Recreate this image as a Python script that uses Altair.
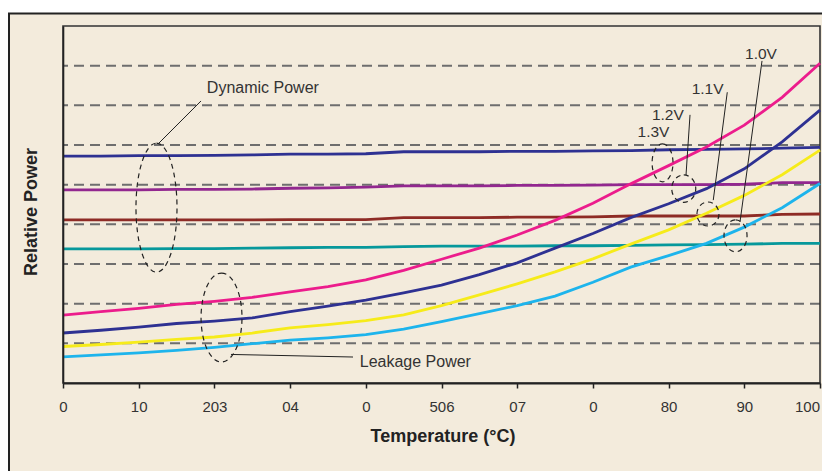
import altair as alt
import pandas as pd

# ---------------- data ----------------
temps = [0, 5, 10, 15, 20, 25, 30, 35, 40, 45, 50, 55, 60, 65, 70, 75, 80, 85, 90, 95, 100]

# dynamic power (nearly flat)
dyn_blue = [5.72, 5.72, 5.73, 5.73, 5.74, 5.75, 5.77, 5.77, 5.78, 5.83, 5.83, 5.83, 5.84, 5.84, 5.85, 5.86, 5.88, 5.89, 5.90, 5.92, 5.94]
dyn_purple = [4.87, 4.87, 4.87, 4.88, 4.88, 4.89, 4.91, 4.92, 4.94, 4.97, 4.97, 4.97, 4.98, 4.98, 4.99, 5.00, 5.00, 5.00, 5.01, 5.05, 5.05]
dyn_brown = [4.11, 4.11, 4.11, 4.11, 4.11, 4.11, 4.12, 4.12, 4.12, 4.17, 4.17, 4.17, 4.18, 4.18, 4.19, 4.21, 4.21, 4.21, 4.21, 4.25, 4.26]
dyn_teal = [3.38, 3.38, 3.38, 3.39, 3.39, 3.40, 3.41, 3.42, 3.42, 3.44, 3.45, 3.45, 3.45, 3.46, 3.46, 3.47, 3.48, 3.49, 3.50, 3.52, 3.52]

# leakage power
leak_13 = [1.71, 1.80, 1.88, 1.98, 2.06, 2.16, 2.30, 2.43, 2.60, 2.84, 3.12, 3.40, 3.73, 4.10, 4.53, 5.02, 5.48, 5.95, 6.50, 7.20, 8.06]
leak_12 = [1.26, 1.33, 1.41, 1.50, 1.56, 1.64, 1.80, 1.94, 2.09, 2.27, 2.47, 2.73, 3.03, 3.40, 3.77, 4.17, 4.52, 4.90, 5.40, 6.08, 6.88]
leak_11 = [0.92, 0.97, 1.03, 1.10, 1.16, 1.26, 1.39, 1.47, 1.57, 1.72, 1.95, 2.22, 2.50, 2.80, 3.13, 3.50, 3.86, 4.28, 4.73, 5.25, 5.87]
leak_10 = [0.66, 0.71, 0.76, 0.82, 0.90, 0.99, 1.08, 1.14, 1.22, 1.36, 1.55, 1.75, 1.95, 2.19, 2.54, 2.92, 3.21, 3.52, 3.93, 4.42, 5.03]

series_names = ["dyn_blue", "dyn_purple", "dyn_brown", "dyn_teal",
                "leak_1.3V", "leak_1.2V", "leak_1.1V", "leak_1.0V"]
series_values = [dyn_blue, dyn_purple, dyn_brown, dyn_teal,
                 leak_13, leak_12, leak_11, leak_10]
series_colors = ["#2E3192", "#92278F", "#8E2B25", "#06989B",
                 "#EC1C8C", "#2E3192", "#F6EB1A", "#1DB4EC"]

x_ticks = [0, 10, 20, 30, 40, 50, 60, 70, 80, 90, 100]
x_tick_labels = ["0", "10", "203", "04", "0", "506", "07", "0", "80", "90", "100"]
grid_levels = [1, 2, 3, 4, 5, 6, 7, 8]

# annotations (data coordinates)
ann_text = ["Dynamic Power", "Leakage Power", "1.0V", "1.1V", "1.2V", "1.3V"]
ann_text_T = [19.0, 39.2, 90.1, 83.05, 77.8, 75.9]
ann_text_V = [7.30, 0.41, 8.16, 7.28, 6.63, 6.19]
ann_text_fs = [16, 16, 15.5, 15.5, 15.5, 15.5]

ell_T = [12.35, 20.94, 79.2, 82.0, 85.2, 88.84]
ell_V = [4.42, 1.65, 5.55, 4.90, 4.26, 3.71]
ell_h = [129, 89, 38, 27.4, 24, 32]          # pixel heights
ell_ratio = [0.318, 0.46, 0.55, 0.876, 0.917, 0.72]

lead_T = [18.23, 22.19, 92.34, 87.75, 82.83]
lead_V = [7.11, 0.72, 8.12, 7.33, 6.76]
lead_T2 = [12.68, 38.31, 89.43, 85.9, 82.3]
lead_V2 = [6.05, 0.655, 4.06, 4.61, 5.24]

# ---------------- build ----------------
W, H = 757, 357
BEIGE = "#F3EBDC"
FONT = "Liberation Sans"

rows = []
for name, vals in zip(series_names, series_values):
    for t, v in zip(temps, vals):
        rows.append({"series": name, "T": t, "V": v})
df = pd.DataFrame(rows)

x_scale = alt.Scale(domain=[0, 100], nice=False, zero=False)
y_scale = alt.Scale(domain=[0, 9], nice=False, zero=False)

label_arr = "[" + ",".join("'" + s + "'" for s in x_tick_labels) + "]"

x_axis = alt.Axis(
    values=x_ticks, labelExpr=label_arr + "[round(datum.value/10)]",
    grid=False, tickSize=5, tickWidth=1.5, tickColor="#222",
    domainColor="#222", domainWidth=2,
    labelFont=FONT, labelFontSize=15, labelColor="#333", labelPadding=11,
    labelFlush=False, labelOverlap=False,
    labelOffset={"condition": {"test": "datum.value === 100", "value": -13}, "value": 0},
    title="Temperature (°C)", titleFont=FONT, titleFontSize=18,
    titleFontWeight="bold", titleColor="#222",
    titleBaseline="alphabetic", titleY=58, titleX=W / 2 + 1, titleAlign="center",
    zindex=1,
)
y_axis = alt.Axis(
    labels=False, ticks=False, grid=False,
    domainColor="#222", domainWidth=1.6,
    title="Relative Power", titleFont=FONT, titleFontSize=18,
    titleFontWeight="bold", titleColor="#222",
    titleAngle=270, titleAlign="center", titleBaseline="alphabetic",
    titleX=-26.3, titleY=185.5,
    zindex=1,
)

one = pd.DataFrame({"k": [0]})

frame = alt.Chart(one).mark_rect(fill=BEIGE, stroke="#222", strokeWidth=2).encode(
    x=alt.value(-54), x2=alt.value(W + 60), y=alt.value(-12.5), y2=alt.value(H + 150)
)

plot_frame = alt.Chart(one).mark_rect(fillOpacity=0, stroke="#333", strokeWidth=1.6).encode(
    x=alt.value(0), x2=alt.value(W), y=alt.value(0), y2=alt.value(H)
)

grid = alt.Chart(pd.DataFrame({"g": grid_levels})).mark_rule(
    color="#6E6E6E", strokeWidth=2, strokeDash=[10, 6]
).encode(y=alt.Y("g:Q", scale=y_scale, axis=y_axis))

lines = alt.Chart(df).mark_line(strokeWidth=2.8).encode(
    x=alt.X("T:Q", scale=x_scale, axis=x_axis),
    y=alt.Y("V:Q", scale=y_scale, axis=y_axis),
    color=alt.Color("series:N", scale=alt.Scale(domain=series_names, range=series_colors), legend=None),
    detail="series:N",
)

k = 0.5523
def ellipse_path(r):
    return (f"M0,-1 C{k*r:.4f},-1 {r:.4f},{-k:.4f} {r:.4f},0 "
            f"C{r:.4f},{k:.4f} {k*r:.4f},1 0,1 "
            f"C{-k*r:.4f},1 {-r:.4f},{k:.4f} {-r:.4f},0 "
            f"C{-r:.4f},{-k:.4f} {-k*r:.4f},-1 0,-1 Z")

ell_df = pd.DataFrame({
    "T": ell_T, "V": ell_V,
    "size": [h * h for h in ell_h],
    "shape": [ellipse_path(r) for r in ell_ratio],
})
ellipses = alt.Chart(ell_df).mark_point(
    filled=False, stroke="#222", strokeWidth=1.2, strokeDash=[5, 4], opacity=1
).encode(
    x=alt.X("T:Q", scale=x_scale, axis=x_axis),
    y=alt.Y("V:Q", scale=y_scale, axis=y_axis),
    size=alt.Size("size:Q", scale=None),
    shape=alt.Shape("shape:N", scale=None),
)

lead_df = pd.DataFrame({"T": lead_T, "V": lead_V, "T2": lead_T2, "V2": lead_V2})
leaders = alt.Chart(lead_df).mark_rule(color="#222", strokeWidth=1).encode(
    x=alt.X("T:Q", scale=x_scale, axis=x_axis),
    y=alt.Y("V:Q", scale=y_scale, axis=y_axis),
    x2="T2:Q", y2="V2:Q",
)

txt_df = pd.DataFrame({"txt": ann_text, "T": ann_text_T, "V": ann_text_V, "fs": ann_text_fs})
texts = alt.Chart(txt_df).mark_text(
    align="left", baseline="alphabetic", font=FONT, color="#333"
).encode(
    x=alt.X("T:Q", scale=x_scale, axis=x_axis),
    y=alt.Y("V:Q", scale=y_scale, axis=y_axis),
    text="txt:N",
    size=alt.Size("fs:Q", scale=None),
)

chart = alt.layer(frame, grid, plot_frame, lines, leaders, ellipses, texts).properties(
    width=W, height=H,
    autosize=alt.AutoSizeParams(type="none"),
    padding={"left": 55, "top": 18, "right": 2, "bottom": 90},
    background="white",
).configure_view(strokeWidth=0)

chart.save("out.html", embed_options={"renderer": "svg", "actions": False})
